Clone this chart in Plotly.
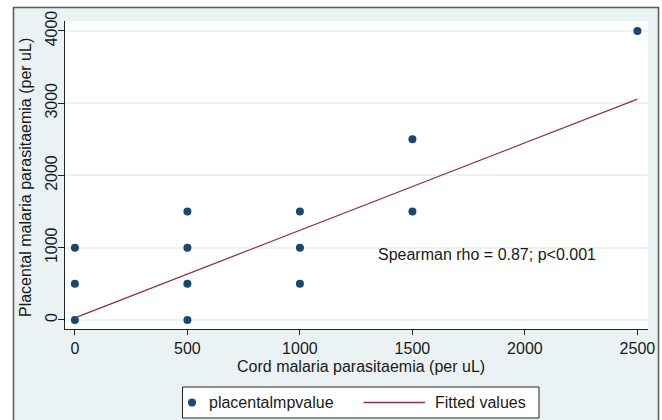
import plotly.graph_objects as go

# Data
cord = [0, 0, 0, 500, 500, 500, 500, 1000, 1000, 1000, 1500, 1500, 2500]
placental = [0, 500, 1000, 0, 500, 1000, 1500, 500, 1000, 1500, 1500, 2500, 4000]
fit_x = [0, 2500]
fit_y = [30, 3058]
x_ticks = [0, 500, 1000, 1500, 2000, 2500]
y_ticks = [0, 1000, 2000, 3000, 4000]
legend_labels = ["placentalmpvalue", "Fitted values"]

W, H = 662, 420
L, R, T, B = 65, 14, 21, 91
pw, ph = W - L - R, H - T - B

def px(xp):
    return (xp - L) / pw

def py(yp):
    return (H - B - yp) / ph

FONT = "Liberation Sans, Arial, sans-serif"
BG = "#EAF2F3"
TXT = "#1a1a1a"
C1 = "#1A476F"
C2 = "#90353B"

fig = go.Figure()
fig.add_trace(go.Scatter(
    x=cord, y=placental, mode="markers", name=legend_labels[0],
    marker=dict(color=C1, size=8, line=dict(width=0)),
))
fig.add_trace(go.Scatter(
    x=fit_x, y=fit_y, mode="lines", name=legend_labels[1],
    line=dict(color=C2, width=1.3),
))

shapes = [
    # outer graph region
    dict(type="rect", xref="paper", yref="paper", layer="below",
         x0=px(13.5), x1=px(658.5), y0=py(430), y1=py(7.5),
         fillcolor=BG, line=dict(color="#5a5a5a", width=1.5)),
    # plot region
    dict(type="rect", xref="paper", yref="paper", layer="below",
         x0=0, x1=1, y0=0, y1=1, fillcolor="white", line=dict(width=0)),
    # legend box
    dict(type="rect", xref="paper", yref="paper",
         x0=px(182.5), x1=px(539), y0=py(418), y1=py(387),
         fillcolor="white", line=dict(color="#222", width=1)),
    # legend marker
    dict(type="circle", xref="paper", yref="paper",
         x0=px(188), x1=px(196), y0=py(406.5), y1=py(398.5),
         fillcolor=C1, line=dict(width=0)),
    # legend line
    dict(type="line", xref="paper", yref="paper",
         x0=px(363.5), x1=px(425), y0=py(402.5), y1=py(402.5),
         line=dict(color=C2, width=1.3)),
]

annotations = [
    dict(text="Spearman rho = 0.87; p<0.001", x=1340, y=900, xref="x", yref="y",
         xanchor="left", yanchor="middle", showarrow=False,
         font=dict(family=FONT, size=16, color=TXT)),
    dict(text="Cord malaria parasitaemia (per uL)", x=px(361), y=py(366), xref="paper", yref="paper",
         xanchor="center", yanchor="middle", showarrow=False,
         font=dict(family=FONT, size=16, color=TXT)),
    dict(text="Placental malaria parasitaemia (per uL)", x=px(25), y=py(178), xref="paper", yref="paper",
         xanchor="center", yanchor="middle", showarrow=False, textangle=-90,
         font=dict(family=FONT, size=16, color=TXT)),
    dict(text=legend_labels[0], x=px(207), y=py(402.5), xref="paper", yref="paper",
         xanchor="left", yanchor="middle", showarrow=False,
         font=dict(family=FONT, size=16, color=TXT)),
    dict(text=legend_labels[1], x=px(433), y=py(402.5), xref="paper", yref="paper",
         xanchor="left", yanchor="middle", showarrow=False,
         font=dict(family=FONT, size=16, color=TXT)),
]

fig.update_layout(
    width=W, height=H, autosize=False,
    margin=dict(l=L, r=R, t=T, b=B, pad=0, autoexpand=False),
    paper_bgcolor="white",
    plot_bgcolor="rgba(0,0,0,0)",
    shapes=shapes,
    annotations=annotations,
    font=dict(family=FONT, size=16, color=TXT),
    showlegend=False,
    xaxis=dict(
        range=[-44, 2547], tickvals=x_ticks, ticktext=[str(v) for v in x_ticks],
        showgrid=False, zeroline=False, showline=True, linecolor="#222", linewidth=1,
        ticks="outside", ticklen=5, tickcolor="#222", tickwidth=1, automargin=False,
        tickfont=dict(family=FONT, size=16, color=TXT),
    ),
    yaxis=dict(
        range=[-125, 4138], tickvals=y_ticks, ticktext=[str(v) for v in y_ticks],
        showgrid=True, gridcolor=BG, gridwidth=1.5, zeroline=False,
        showline=True, linecolor="#222", linewidth=1, automargin=False,
        ticks="outside", ticklen=6, tickcolor="#222", tickwidth=1, tickangle=-90,
        ticklabelstandoff=-5,
        tickfont=dict(family=FONT, size=16, color=TXT),
    ),
)

fig.write_html(
    "out.html",
    config={"displayModeBar": False},
    post_script="document.body.style.margin='0';document.body.style.padding='0';document.documentElement.style.overflow='hidden';",
)
